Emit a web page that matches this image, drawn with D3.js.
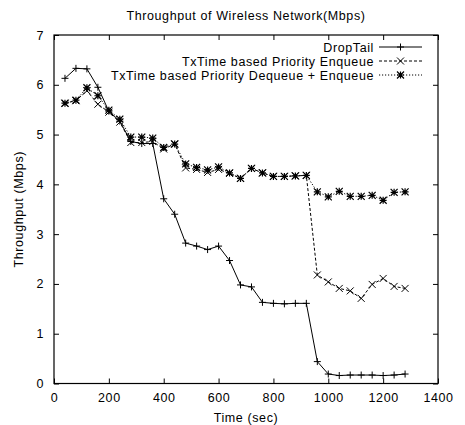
<!DOCTYPE html>
<html>
<head>
<meta charset="utf-8">
<script src="https://cdn.jsdelivr.net/npm/d3@7/dist/d3.min.js"></script>
<style>
  html, body { margin: 0; padding: 0; background: #fff; }
  svg text { font-family: "Liberation Sans", Arial, sans-serif; fill: #000; letter-spacing: 0.6px; }
</style>
</head>
<body>
<svg id="chart" width="465" height="425"></svg>
<script>
// Sample times (sec)
const times = [40, 80, 120, 160, 200, 240, 280, 320, 360, 400, 440, 480, 520, 560, 600, 640,
               680, 720, 760, 800, 840, 880, 920, 960, 1000, 1040, 1080, 1120, 1160, 1200, 1240, 1280];

// Throughput (Mbps) per queueing scheme
const dropTail = [6.13, 6.33, 6.32, 5.95, 5.47, 5.27, 4.86, 4.82, 4.82, 3.71, 3.40, 2.82, 2.76, 2.69, 2.76, 2.47,
                  1.98, 1.94, 1.63, 1.61, 1.60, 1.61, 1.61, 0.44, 0.19, 0.16, 0.17, 0.17, 0.17, 0.16, 0.17, 0.19];
const prioEnqueue = [5.63, 5.68, 5.88, 5.61, 5.45, 5.25, 4.84, 4.84, 4.86, 4.71, 4.81, 4.33, 4.30, 4.24, 4.30, 4.22,
                     4.12, 4.32, 4.23, 4.16, 4.16, 4.17, 4.18, 2.18, 2.04, 1.91, 1.86, 1.71, 1.99, 2.11, 1.95, 1.91];
const prioDeqEnq = [5.63, 5.69, 5.94, 5.78, 5.49, 5.31, 4.95, 4.95, 4.93, 4.74, 4.81, 4.41, 4.34, 4.29, 4.35, 4.23,
                    4.12, 4.32, 4.23, 4.16, 4.16, 4.17, 4.18, 3.85, 3.75, 3.86, 3.76, 3.76, 3.78, 3.68, 3.84, 3.85];

const seriesNames = ["DropTail", "TxTime based Priority Enqueue", "TxTime based Priority Dequeue + Enqueue"];
const xTicks = [0, 200, 400, 600, 800, 1000, 1200, 1400];
const yTicks = [0, 1, 2, 3, 4, 5, 6, 7];

const svg = d3.select("#chart");
const plotLeft = 54, plotRight = 438, plotTop = 35, plotBottom = 383.5;

const x = d3.scaleLinear().domain([0, 1400]).range([plotLeft, plotRight]);
const y = d3.scaleLinear().domain([0, 7]).range([plotBottom, plotTop]);

const tickLen = 5;
const fontSize = 12.5;
const fmt = d3.format("d");

// Axes: ticks point inward, mirrored on the opposite side
svg.append("g").attr("transform", `translate(0,${plotBottom})`)
  .call(d3.axisBottom(x).tickValues(xTicks).tickFormat(fmt).tickSizeInner(-tickLen).tickSizeOuter(0).tickPadding(10))
  .call(g => g.select(".domain").remove())
  .call(g => g.selectAll("text").attr("font-size", fontSize).attr("font-family", "Liberation Sans, Arial, sans-serif"));
svg.append("g").attr("transform", `translate(0,${plotTop})`)
  .call(d3.axisTop(x).tickValues(xTicks).tickSizeInner(-tickLen).tickSizeOuter(0).tickFormat(""))
  .call(g => g.select(".domain").remove());
svg.append("g").attr("transform", `translate(${plotLeft},0)`)
  .call(d3.axisLeft(y).tickValues(yTicks).tickFormat(fmt).tickSizeInner(-tickLen).tickSizeOuter(0).tickPadding(10))
  .call(g => g.select(".domain").remove())
  .call(g => g.selectAll("text").attr("font-size", fontSize).attr("font-family", "Liberation Sans, Arial, sans-serif"));
svg.append("g").attr("transform", `translate(${plotRight},0)`)
  .call(d3.axisRight(y).tickValues(yTicks).tickSizeInner(-tickLen).tickSizeOuter(0).tickFormat(""))
  .call(g => g.select(".domain").remove());
svg.selectAll(".tick line").attr("stroke", "#000");

// Plot frame
svg.append("rect")
  .attr("x", plotLeft).attr("y", plotTop)
  .attr("width", plotRight - plotLeft).attr("height", plotBottom - plotTop)
  .attr("fill", "none").attr("stroke", "#000").attr("stroke-width", 1.2);

// Titles
svg.append("text").attr("x", (plotLeft + plotRight) / 2).attr("y", 20)
  .attr("text-anchor", "middle").attr("font-size", fontSize)
  .text("Throughput of Wireless Network(Mbps)");
svg.append("text").attr("x", (plotLeft + plotRight) / 2).attr("y", 422)
  .attr("text-anchor", "middle").attr("font-size", fontSize)
  .text("Time (sec)");
svg.append("text")
  .attr("transform", `translate(23,${(plotTop + plotBottom) / 2}) rotate(-90)`)
  .attr("text-anchor", "middle").attr("font-size", fontSize)
  .text("Throughput (Mbps)");

// Point markers
const ms = 3.5;
const markerPath = {
  plus: (cx, cy) => `M${cx - ms},${cy}H${cx + ms}M${cx},${cy - ms}V${cy + ms}`,
  cross: (cx, cy) => `M${cx - ms},${cy - ms}L${cx + ms},${cy + ms}M${cx - ms},${cy + ms}L${cx + ms},${cy - ms}`,
  star: (cx, cy) => markerPath.plus(cx, cy) + markerPath.cross(cx, cy)
};

const series = [
  { name: seriesNames[0], values: dropTail, dash: null, marker: "plus", color: "#000", width: 1 },
  { name: seriesNames[1], values: prioEnqueue, dash: "3,2", marker: "cross", color: "#000", width: 1 },
  { name: seriesNames[2], values: prioDeqEnq, dash: "1.2,1.8", marker: "star", color: "#000", width: 1 }
];

const line = d3.line().x(d => x(d[0])).y(d => y(d[1]));

// Draw later series first so DropTail sits on top
[...series].reverse().forEach(s => {
  const pts = times.map((t, i) => [t, s.values[i]]);
  svg.append("path")
    .attr("d", line(pts))
    .attr("fill", "none").attr("stroke", s.color).attr("stroke-width", s.width)
    .attr("stroke-dasharray", s.dash);
  svg.append("path")
    .attr("d", pts.map(p => markerPath[s.marker](x(p[0]), y(p[1]))).join(""))
    .attr("fill", "none").attr("stroke", s.color)
    .attr("stroke-width", s.marker === "star" ? 1.2 : 1);
});

// Legend, top right inside the frame
const legTextX = 374, legLineX0 = 379, legLineX1 = 422;
series.forEach((s, i) => {
  const ly = 47 + i * 14;
  svg.append("text").attr("x", legTextX).attr("y", ly + 4.5)
    .attr("text-anchor", "end").attr("font-size", fontSize).text(s.name);
  svg.append("line").attr("x1", legLineX0).attr("x2", legLineX1).attr("y1", ly).attr("y2", ly)
    .attr("stroke", s.color).attr("stroke-width", s.width).attr("stroke-dasharray", s.dash);
  svg.append("path").attr("d", markerPath[s.marker]((legLineX0 + legLineX1) / 2, ly))
    .attr("fill", "none").attr("stroke", s.color)
    .attr("stroke-width", s.marker === "star" ? 1.2 : 1);
});
</script>
</body>
</html>
